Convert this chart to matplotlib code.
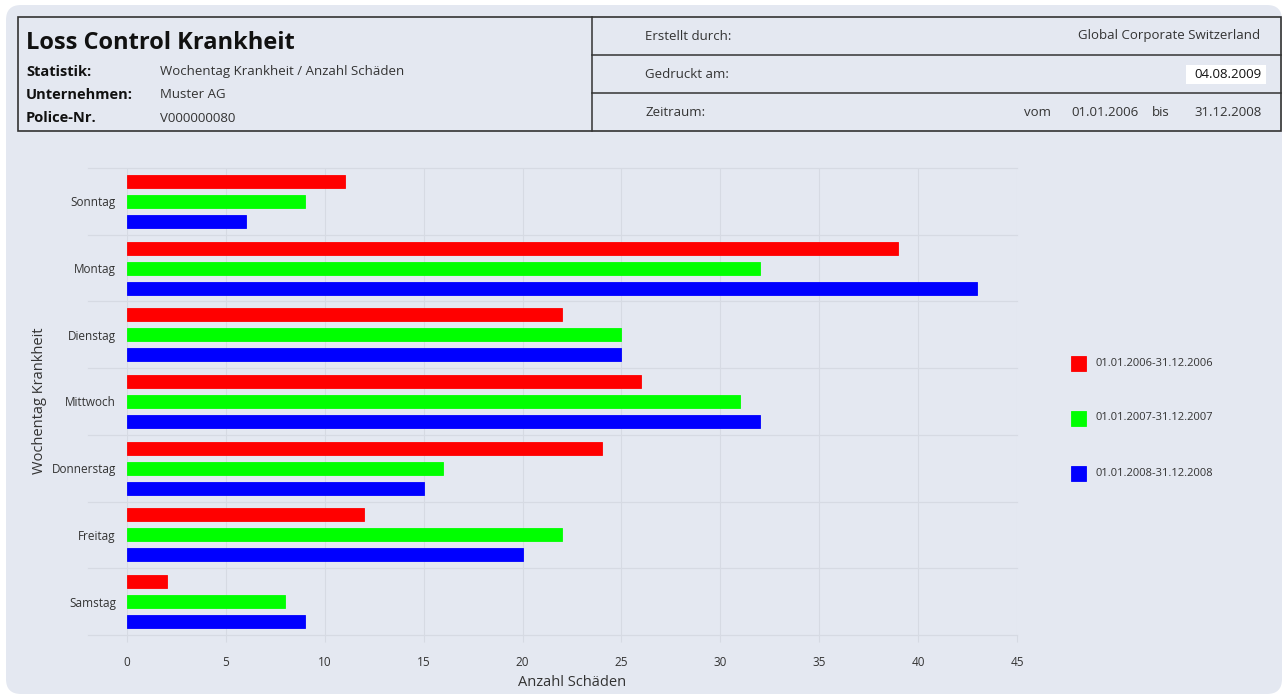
import matplotlib
matplotlib.use("Agg")
import matplotlib.pyplot as plt
import matplotlib.transforms as mtransforms
from matplotlib.patches import FancyBboxPatch, Rectangle
from matplotlib.lines import Line2D
import numpy as np

days = ["Sonntag", "Montag", "Dienstag", "Mittwoch", "Donnerstag", "Freitag", "Samstag"]
series_labels = ["01.01.2006-31.12.2006", "01.01.2007-31.12.2007", "01.01.2008-31.12.2008"]
v2006 = [11, 39, 22, 26, 24, 12, 2]
v2007 = [9, 32, 25, 31, 16, 22, 8]
v2008 = [6, 43, 25, 32, 15, 20, 9]
colors = ["#ff0000", "#00ff00", "#0000ff"]
xticks = [0, 5, 10, 15, 20, 25, 30, 35, 40, 45]

W, H = 1286, 695
plt.rcParams['font.family'] = ['Open Sans', 'DejaVu Sans']
fig = plt.figure(figsize=(W/100, H/100), dpi=100)
fig.patch.set_facecolor("white")

def fx(x): return x / W
def fy(y): return 1 - y / H

bg = "#e4e8f1"
panel = FancyBboxPatch((6, 1), 1276, 689,
                       boxstyle="round,pad=0,rounding_size=15",
                       transform=mtransforms.IdentityTransform(), facecolor=bg, edgecolor="none", zorder=-5)
fig.patches.append(panel)

# header box
hdr = Rectangle((fx(18), fy(131)), fx(1281-18), (131-17)/H, transform=fig.transFigure,
                facecolor="none", edgecolor="#333333", lw=1.2, zorder=2)
fig.patches.append(hdr)
for l in [Line2D([fx(592), fx(592)], [fy(17), fy(131)]),
          Line2D([fx(592), fx(1281)], [fy(55), fy(55)]),
          Line2D([fx(592), fx(1281)], [fy(93), fy(93)])]:
    l.set_transform(fig.transFigure); l.set_color("#333333"); l.set_linewidth(1.1)
    fig.lines.append(l)

tc = "#111111"
vc = "#333333"
fig.text(fx(26), fy(43), "Loss Control Krankheit", fontsize=17, fontweight="bold", color=tc, va="center", ha="left")
for y, lab, val in [(72, "Statistik:", "Wochentag Krankheit / Anzahl Schäden"),
                    (95, "Unternehmen:", "Muster AG"),
                    (118, "Police-Nr.", "V000000080")]:
    fig.text(fx(26), fy(y), lab, fontsize=10.5, fontweight="bold", color=tc, va="center")
    fig.text(fx(160), fy(y), val, fontsize=9.5, color=vc, va="center")

fig.text(fx(645), fy(36), "Erstellt durch:", fontsize=9.5, color=vc, va="center")
fig.text(fx(1260), fy(36), "Global Corporate Switzerland", fontsize=9.5, color=vc, va="center", ha="right")
fig.text(fx(645), fy(74), "Gedruckt am:", fontsize=9.5, color=vc, va="center")
fig.patches.append(Rectangle((fx(1186), fy(84)), fx(80), 19/H, transform=fig.transFigure,
                             facecolor="white", edgecolor="none", zorder=1))
fig.text(fx(1262), fy(74), "04.08.2009", fontsize=9.5, color="#111111", va="center", ha="right", zorder=3)
fig.text(fx(645), fy(112), "Zeitraum:", fontsize=9.5, color=vc, va="center")
fig.text(fx(1024), fy(112), "vom", fontsize=9.5, color=vc, va="center")
fig.text(fx(1071), fy(112), "01.01.2006", fontsize=9.5, color=vc, va="center")
fig.text(fx(1152), fy(112), "bis", fontsize=9.5, color=vc, va="center")
fig.text(fx(1262), fy(112), "31.12.2008", fontsize=9.5, color=vc, va="center", ha="right")

# chart
ax = fig.add_axes([fx(127), fy(635), fx(1017-127), (635-168)/H])
ax.set_facecolor("none")
n = len(days)
ycat = np.arange(n)
offsets = [-0.3, 0.0, 0.3]
for vals, col, off, lab in zip([v2006, v2007, v2008], colors, offsets, series_labels):
    ax.barh(ycat + off, vals, height=0.195, color=col, edgecolor=col, lw=0.6, label=lab, zorder=3)
ax.set_ylim(n - 0.5, -0.5)
ax.set_xlim(0, 45)
ax.set_xticks(xticks)
ax.set_yticks(ycat)
ax.set_yticklabels(days)
gc = "#d6dae3"
for x in xticks:
    ax.axvline(x, color=gc, lw=0.8, zorder=1)
bt = mtransforms.blended_transform_factory(fig.transFigure, ax.transData)
for yb in np.arange(-0.5, n, 1.0):
    ax.add_line(Line2D([fx(88), fx(1017)], [yb, yb], transform=bt, color=gc, lw=0.9, clip_on=False, zorder=1))
for s in ax.spines.values():
    s.set_visible(False)
ax.tick_params(axis="y", length=0, pad=8, labelsize=8.5, labelcolor="#333333")
ax.tick_params(axis="x", length=5, color=gc, pad=10, labelsize=8.5, labelcolor="#333333")
fig.text(fx(572), fy(682), "Anzahl Schäden", fontsize=10.5, color="#333333", ha="center", va="center")
fig.text(fx(40), fy(401), "Wochentag Krankheit", fontsize=10.5, color="#333333", ha="center", va="center", rotation=90)

# legend
for yy, col, lab in zip([363, 418, 473], colors, series_labels):
    fig.patches.append(Rectangle((fx(1071), fy(yy + 7.5)), fx(15), 15/H, transform=fig.transFigure,
                                 facecolor=col, edgecolor=col, lw=0.6, zorder=3))
    fig.text(fx(1095), fy(yy), lab, fontsize=8, color="#333333", va="center")

fig.savefig("out.png", dpi=100, facecolor="white")
